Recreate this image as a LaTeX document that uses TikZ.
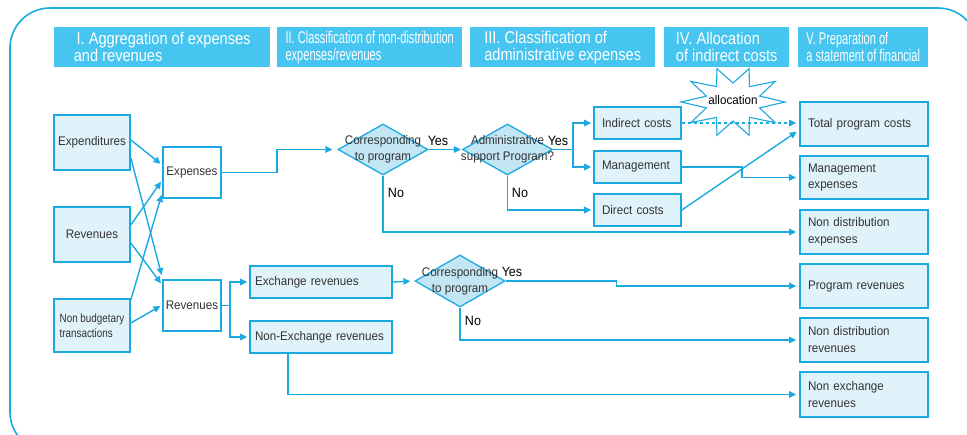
\documentclass[tikz,border=0pt]{standalone}
\usepackage{fontspec}
\setmainfont[FakeStretch=0.93]{Liberation Sans}
\newfontfamily\headwide[FakeStretch=0.86]{Liberation Sans}
\newfontfamily\headnarrow[FakeStretch=0.65]{Liberation Sans}
\newfontfamily\bodynarrow[FakeStretch=0.82]{Liberation Sans}
\usetikzlibrary{arrows.meta, positioning, shapes.geometric, calc}
\definecolor{lineCyan}{HTML}{1BA9E1}
\definecolor{headCyan}{HTML}{45C5F0}
\definecolor{boxFill}{HTML}{E0F2FA}
\definecolor{diaFill}{HTML}{C3E6F5}
\definecolor{textGray}{HTML}{333333}

\begin{document}
\begin{tikzpicture}[x=1pt, y=-1pt, >={Triangle[length=7pt,width=6.5pt]},
    every node/.style={font=\fontsize{12.5}{16}\selectfont, text=textGray},
    headbox/.style={fill=headCyan, text=white, align=left, inner sep=0pt,
        minimum height=40pt, anchor=north west,
        font=\headwide\fontsize{17}{17}\selectfont},
    narrowhead/.style={font=\headnarrow\fontsize{17}{17}\selectfont},
    inbox/.style={draw=lineCyan, line width=1.6pt, fill=boxFill, inner sep=0pt},
    midbox/.style={inbox, fill=white},
    txtbox/.style={inbox, align=left, inner xsep=8pt, inner ysep=0pt},
    outbox/.style={txtbox, text width=112pt, minimum height=44pt,
        font=\fontsize{12.5}{17}\selectfont},
    dia/.style={diamond, draw=lineCyan, fill=diaFill, line width=1.3pt,
        inner sep=0pt, minimum width=90pt, minimum height=51pt},
    diatext/.style={align=center, inner sep=0pt},
    flow/.style={draw=lineCyan, line width=1.4pt, ->},
    yesno/.style={font=\fontsize{13.5}{13.5}\selectfont, text=black, inner sep=0pt}]
    \useasboundingbox (0,0) rectangle (967,435);

    % outer frame
    \begin{scope}
        \clip (0,0) rectangle (967,435);
        \draw[lineCyan, line width=1.6pt, rounded corners=40pt] (10,8) rectangle (978,452);
    \end{scope}

    % stage headers
    \node[headbox, minimum width=216pt] (h1) at (54,27) {\,I. Aggregation of expenses\\and revenues};
    \node[headbox, narrowhead, minimum width=185pt] (h2) at (277,27) {II. Classification of non-distribution\\expenses/revenues};
    \node[headbox, minimum width=185pt] (h3) at (470,27) {III. Classification of\\administrative expenses};
    \node[headbox, minimum width=125pt] (h4) at (664,27) {IV. Allocation\\of indirect costs};
    \node[headbox, narrowhead, minimum width=130pt] (h5) at (798,27) {V. Preparation of\\a statement of financial};

    % I. aggregation
    \node[inbox, minimum width=76pt, minimum height=55pt] (expd) at (92,142.5) {Expenditures};
    \node[inbox, minimum width=76pt, minimum height=55pt] (revs) at (92,234.5) {Revenues};
    \node[inbox, minimum width=76pt, minimum height=53pt, align=left,
        font=\bodynarrow\fontsize{12}{15}\selectfont] (nonb) at (92,325.5) {Non budgetary\\transactions};
    \node[midbox, minimum width=58pt, minimum height=51pt] (expn) at (192,172.5) {Expenses};
    \node[midbox, minimum width=58pt, minimum height=51pt] (revn) at (192,305.5) {Revenues};

    % II./III. decisions
    \node[dia] (cor1) at (383,149.5) {};
    \node[diatext] at (cor1) {Corresponding\\to program};
    \node[dia] (adm) at (507.5,149.5) {};
    \node[diatext] at (adm) {Administrative\\support Program?};
    \node[dia, minimum height=52pt] (cor2) at (460,281) {};
    \node[diatext] at (cor2) {Corresponding\\to program};

    \node[txtbox, text width=71pt, minimum height=32pt] (ind) at (637.5,123) {Indirect costs};
    \node[txtbox, text width=71pt, minimum height=32pt] (man) at (637.5,167) {Management};
    \node[txtbox, text width=71pt, minimum height=32pt] (dir) at (637.5,210) {Direct costs};
    \node[txtbox, inner xsep=5pt, text width=132pt, minimum height=32pt] (exr) at (321,282) {Exchange revenues};
    \node[txtbox, inner xsep=5pt, text width=132pt, minimum height=32pt] (nexr) at (321,337) {Non-Exchange revenues};

    % V. statement
    \node[outbox] (tot) at (864,124) {Total program costs};
    \node[outbox, minimum height=43pt] (mex) at (864,177.5) {Management\\expenses};
    \node[outbox] (ndex) at (864,232) {Non distribution\\expenses};
    \node[outbox] (prev) at (864,286) {Program revenues};
    \node[outbox] (ndrev) at (864,340) {Non distribution\\revenues};
    \node[outbox, minimum height=45pt] (nxrev) at (864,394.5) {Non exchange\\revenues};

    % IV. allocation star
    \filldraw[draw=lineCyan, fill=white, line width=1.1pt]
        plot[samples=21, domain=0:20, variable=\k]
        ({733+ifthenelse(mod(\k,2)==0,52,28)*cos(72+18*\k)},
         {102-ifthenelse(mod(\k,2)==0,35,19)*sin(72+18*\k)}) -- cycle;
    \node[text=black] (alloc) at (733,100) {allocation};

    % aggregation arrows
    \draw[flow, shorten >=2pt] (expd.east |- 0,140) -- (expn.west |- 0,165);
    \draw[flow, shorten >=2pt] (expd.east |- 0,158) -- (revn.west |- 0,277);
    \draw[flow, shorten >=2pt] (revs.east |- 0,225) -- (expn.west |- 0,180);
    \draw[flow, shorten >=2pt] (revs.east |- 0,243) -- (revn.west |- 0,285);
    \draw[flow, shorten >=2pt] (nonb.east |- 0,300) -- (expn.west |- 0,193);
    \draw[flow, shorten >=2pt] (nonb.east |- 0,323) -- (revn.west |- 0,305);

    % expenses branch
    \draw[flow, shorten >=5pt] (expn.east) -- ++(55,0) |- (cor1.west);
    \draw[flow, shorten >=1pt] (cor1.east) -- (adm.west);
    \draw[flow, shorten >=3pt] (cor1.south) |- (ndex.west);
    \draw[flow, shorten >=2pt] (adm.east) -- ++(20,0) coordinate (admsplit) |- (ind.west);
    \draw[flow, shorten >=2pt] (admsplit) |- (man.west);
    \draw[flow, shorten >=2pt] (adm.south) |- (dir.west);
    \node[yesno] (yes1) at (438,141) {Yes};
    \node[yesno] (no1) at (396,193) {No};
    \node[yesno] (yes2) at (558,141) {Yes};
    \node[yesno] (no2) at (520,193) {No};

    \draw[flow, dashed, shorten >=3pt] (ind.east) -- (tot.west |- ind.east);
    \draw[flow, shorten >=3pt] (man.east) -- ++(60,0) |- (mex.west);
    \draw[flow, shorten >=3pt] (dir.east) -- (tot.west |- 0,130);

    % revenues branch
    \draw[flow, shorten >=2pt] (revn.east) -- ++(8,0) coordinate (revsplit) |- (exr.west);
    \draw[flow, shorten >=2pt] (revsplit) |- (nexr.west);
    \draw[flow, shorten >=4pt] (exr.east) -- (cor2.west);
    \draw[flow, shorten >=3pt] (cor2.east) -- ++(111,0) |- (prev.west);
    \draw[flow, shorten >=3pt] (cor2.south) |- (ndrev.west);
    \draw[flow, shorten >=3pt] ([xshift=-33pt]nexr.south) |- (nxrev.west);
    \node[yesno] (yes3) at (512,272) {Yes};
    \node[yesno] (no3) at (473,321) {No};
\end{tikzpicture}
\end{document}
